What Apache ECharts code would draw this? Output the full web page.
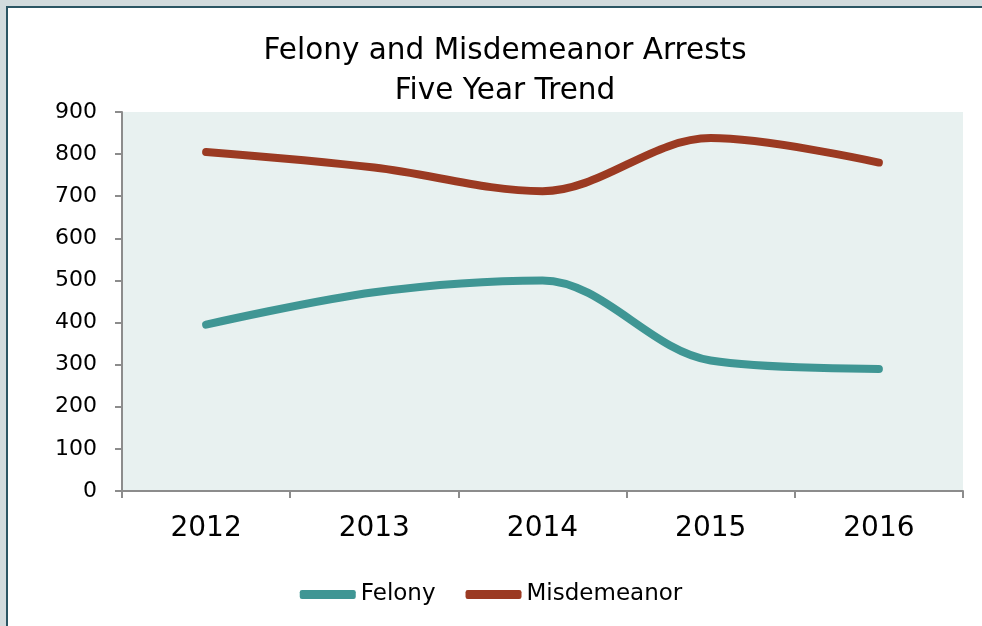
<!DOCTYPE html>
<html>
<head>
<meta charset="utf-8">
<script src="https://cdn.jsdelivr.net/npm/echarts@6/dist/echarts.min.js"></script>
<style>
  html, body { margin: 0; padding: 0; width: 982px; height: 626px; overflow: hidden; background: #d2dbdd; }
  #panel { position: absolute; left: 6px; top: 6px; width: 1000px; height: 700px; background: #ffffff; border-left: 2px solid #2b5563; border-top: 2px solid #2b5563; }
  #chart { position: absolute; left: 0; top: 0; width: 982px; height: 626px; }
</style>
</head>
<body>
<div id="panel"></div>
<div id="chart"></div>
<script>
const titleLines = ['Felony and Misdemeanor Arrests', 'Five Year Trend'];
const years = ['2012', '2013', '2014', '2015', '2016'];
const felony = [395, 472, 500, 310, 290];
const misdemeanor = [805, 768, 712, 838, 780];
const seriesNames = ['Felony', 'Misdemeanor'];

const FONT = '"DejaVu Sans", Verdana, sans-serif';
const chart = echarts.init(document.getElementById('chart'), null, { renderer: 'canvas' });
chart.setOption({
  backgroundColor: 'transparent',
  animation: false,
  title: {
    text: titleLines.join('\n'),
    left: 500, textAlign: 'center', top: 26,
    textStyle: { fontFamily: FONT, fontSize: 29.5, fontWeight: 'normal', color: '#000', lineHeight: 40 }
  },
  legend: {
    data: seriesNames,
    left: 'center', top: 578,
    itemWidth: 56, itemHeight: 9, itemGap: 30,
    icon: 'roundRect',
    textStyle: { fontFamily: FONT, fontSize: 23, color: '#000' }
  },
  grid: { left: 122, right: 19, top: 112, bottom: 135, show: true, backgroundColor: '#e8f1f0', borderWidth: 0 },
  xAxis: {
    type: 'category', data: years, boundaryGap: true,
    axisLine: { lineStyle: { color: '#8c8c8c', width: 2 } },
    axisTick: { show: true, length: 7, lineStyle: { color: '#8c8c8c', width: 2 } },
    axisLabel: { fontFamily: FONT, fontSize: 28, color: '#000', margin: 24 },
    splitLine: { show: false }
  },
  yAxis: {
    type: 'value', min: 0, max: 900, interval: 100,
    axisLine: { show: true, lineStyle: { color: '#8c8c8c', width: 2 } },
    axisTick: { show: true, length: 7, lineStyle: { color: '#8c8c8c', width: 2 } },
    axisLabel: { fontFamily: FONT, fontSize: 22, color: '#000', margin: 25 },
    splitLine: { show: false }
  },
  series: [
    { name: seriesNames[0], type: 'line', data: felony, smooth: 0.34, showSymbol: false, symbol: 'none',
      color: '#3f9694', lineStyle: { width: 8, cap: 'round', join: 'round', color: '#3f9694' } },
    { name: seriesNames[1], type: 'line', data: misdemeanor, smooth: 0.34, showSymbol: false, symbol: 'none',
      color: '#9b3a22', lineStyle: { width: 8, cap: 'round', join: 'round', color: '#9b3a22' } }
  ]
});
</script>
</body>
</html>
